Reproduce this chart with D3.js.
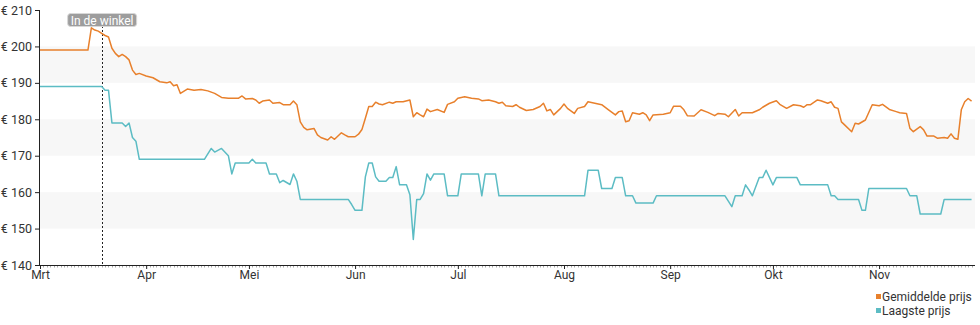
<!DOCTYPE html>
<html>
<head>
<meta charset="utf-8">
<script src="https://cdn.jsdelivr.net/npm/d3@7"></script>
<style>
  html, body { margin: 0; padding: 0; background: #fff; }
  svg { display: block; font-family: Roboto, "Noto Sans", sans-serif; }
</style>
</head>
<body>
<svg id="chart" width="980" height="325"></svg>
<script>
// ---------- DATA ----------
const avgDates = ["03-01","03-15","03-16","03-17","03-18","03-19","03-20","03-21","03-22","03-23","03-24","03-25","03-26","03-27","03-28","03-29","03-30",
"04-01","04-03","04-05","04-07","04-08","04-09","04-10","04-11","04-13","04-15","04-17","04-19","04-21","04-23","04-25","04-28","04-29","04-30",
"05-02","05-03","05-04","05-05","05-07","05-08","05-10","05-11","05-13","05-14","05-15","05-16","05-17","05-18","05-20","05-21","05-22","05-24","05-25","05-26","05-28","05-29","05-30",
"06-01","06-02","06-03","06-04","06-05","06-06","06-07","06-08","06-09","06-11","06-12","06-13","06-15","06-17","06-18","06-19","06-20","06-21","06-22","06-23","06-25","06-27","06-28","06-30",
"07-01","07-03","07-05","07-07","07-08","07-10","07-12","07-13","07-14","07-15","07-17","07-18","07-19","07-21","07-23","07-25","07-26","07-27","07-28","07-29","07-31",
"08-01","08-02","08-04","08-05","08-07","08-08","08-10","08-12","08-14","08-16","08-17","08-18","08-19","08-20","08-21","08-22","08-23","08-24","08-25","08-26","08-27","08-30","08-31",
"09-01","09-02","09-04","09-05","09-06","09-08","09-10","09-12","09-14","09-15","09-17","09-18","09-20","09-21","09-22","09-25","09-27","09-28","09-30",
"10-02","10-03","10-05","10-07","10-09","10-10","10-11","10-12","10-14","10-15","10-17","10-18","10-19","10-20","10-21","10-22","10-24","10-25","10-26","10-28","10-30",
"11-01","11-02","11-04","11-06","11-07","11-09","11-10","11-11","11-13","11-14","11-15","11-17","11-18","11-20","11-21","11-22","11-23","11-24","11-25","11-26","11-27","11-28"];
const avgValues = [199,199,205.1,204.5,204.2,203.6,203.0,202.6,199.5,198.1,197.2,197.8,197.2,196.3,193.5,192.3,192.6,
191.9,191.4,190.3,190.0,190.3,189.2,189.5,187.1,188.3,188.0,188.2,187.8,187.1,186.0,185.8,185.8,186.4,185.6,
185.7,185.3,184.4,185.0,185.3,184.4,184.6,184.0,184.0,185.0,184.0,179.3,177.8,177.1,177.5,175.7,175.0,174.3,175.2,174.5,176.3,175.7,175.2,
175.2,175.9,177.2,180.3,183.5,183.5,184.7,184.2,184.0,184.7,184.4,184.8,184.8,185.3,180.7,181.8,181.2,180.7,182.8,182.1,182.7,181.9,184.1,184.8,
185.8,186.2,185.8,185.6,185.1,185.3,184.8,184.4,184.7,183.7,183.5,184.0,183.3,182.4,182.7,183.5,184.4,182.3,182.7,181.2,183.0,
184.2,183.0,181.6,183.0,183.5,184.8,184.4,184.0,182.6,181.2,182.1,182.3,179.3,179.6,181.8,181.6,181.4,181.8,181.2,179.6,181.2,181.4,181.6,
181.8,183.6,183.6,182.6,181.0,180.9,182.6,181.9,181.0,181.6,181.4,180.7,182.7,180.9,181.8,181.8,182.6,183.3,184.4,
185.1,184.1,183.0,184.0,183.7,183.3,184.0,184.0,185.3,185.1,184.4,184.8,183.3,183.0,179.3,178.4,176.6,178.9,178.7,179.8,184.0,
183.7,184.1,182.7,182.1,181.8,181.6,177.5,176.6,178.0,177.1,175.4,175.4,174.8,175.0,174.8,176.0,174.8,174.5,182.6,184.8,185.7,185.0];

const lowDates = ["03-01","03-19","03-20","03-21","03-22","03-25","03-26","03-27","03-28","03-29","03-30",
"04-18","04-20","04-21","04-23","04-25","04-26","04-27",
"05-01","05-02","05-03","05-06","05-07","05-09","05-10","05-11","05-13","05-14","05-15","05-16","05-30","05-31",
"06-01","06-03","06-04","06-05","06-06","06-07","06-08","06-10","06-11","06-12","06-13","06-14","06-16","06-17","06-18","06-19","06-20","06-21","06-22","06-23","06-24","06-27","06-28",
"07-01","07-02","07-07","07-08","07-09","07-12","07-13",
"08-07","08-08","08-11","08-12","08-15","08-16","08-18","08-19","08-21","08-22","08-27","08-28",
"09-17","09-19","09-20","09-22","09-23","09-24","09-25","09-27","09-28","09-29",
"10-01","10-02","10-08","10-09","10-17","10-18","10-19","10-20","10-26","10-27","10-28","10-29",
"11-09","11-10","11-12","11-13","11-19","11-20","11-28"];
const lowValues = [189,189,188,188,179,179,178,179,175,174,169,
169,172,171,172,170,165,168,
168,169,168,168,165,165,162.6,163.2,162.1,165,163,158,158,156.6,
155,155,164.2,168,168,164.2,163,163,164,164,167,162,162,159.3,147,158,158,159.6,165,163.3,165,165,159,
159,165,165,159,165,165,159,
159,166,166,161,161,164,164,159,159,157,157,159,
159,156,159,159,162,160.6,159,164,164,166,
162,164,164,162,162,159,159,158,158,155,155,161,
161,159,159,154,154,158,158];

const year = 2023;
const startDate = "03-01";
const endDate = "11-29";
const yTicks = [140,150,160,170,180,190,200,210];
const bandRanges = [[150,160],[170,180],[190,200]];
const monthLabels = ["Mrt","Apr","Mei","Jun","Jul","Aug","Sep","Okt","Nov"];
const storeDate = "03-19";
const storeLabel = "In de winkel";
const seriesNames = ["Gemiddelde prijs","Laagste prijs"];
const seriesColors = ["#e8802c","#5cbcc4"];

// ---------- CHART ----------
(function () {
const parse = s => new Date(Date.UTC(year, +s.slice(0,2) - 1, +s.slice(3,5)));
const svg = d3.select("#chart");
const mLeft = 40, mRight = 975, mTop = 10, mBottom = 265;

const x = d3.scaleUtc().domain([parse(startDate), parse(endDate)]).range([mLeft, mRight]);
const y = d3.scaleLinear().domain([140,210]).range([mBottom, mTop]);

// bands
svg.append("g").selectAll("rect").data(bandRanges).join("rect")
  .attr("x", mLeft).attr("width", mRight - mLeft)
  .attr("y", d => y(d[1])).attr("height", d => y(d[0]) - y(d[1]))
  .attr("fill", "#f7f7f7");

// store marker line
const sx = x(parse(storeDate));
svg.append("line")
  .attr("x1", Math.round(sx) + 0.5).attr("x2", Math.round(sx) + 0.5)
  .attr("y1", 14).attr("y2", mBottom)
  .attr("stroke", "#222").attr("stroke-width", 1).attr("stroke-dasharray", "2,2");

// lines
const series = [
  {dates: avgDates, values: avgValues},
  {dates: lowDates, values: lowValues}
];
const line = d3.line().x(d => x(d[0])).y(d => y(d[1]));
series.forEach((s, i) => {
  const pts = s.dates.map((d, j) => [parse(d), s.values[j]]);
  svg.append("path").datum(pts)
    .attr("d", line).attr("fill", "none")
    .attr("stroke", seriesColors[i]).attr("stroke-width", 1.5)
    .attr("stroke-linejoin", "round");
});

// y axis
const yAxis = d3.axisLeft(y).tickValues(yTicks).tickSize(5).tickPadding(3)
  .tickFormat(d => "€ " + d);
const gy = svg.append("g").attr("transform", `translate(${mLeft},0)`).call(yAxis);
gy.select(".domain").attr("stroke", "#222").attr("d", `M-0.5,${mTop}V${mBottom}`);
gy.selectAll(".tick line").attr("stroke", "#222");
gy.selectAll("text").attr("fill", "#333").style("font-size", "12.5px").attr("font-family", "Roboto");

// x axis minor daily ticks
const days = d3.utcDay.range(parse(startDate), parse(endDate));
svg.append("g").selectAll("line").data(days).join("line")
  .attr("x1", d => Math.round(x(d)) + 0.5).attr("x2", d => Math.round(x(d)) + 0.5)
  .attr("y1", mBottom).attr("y2", mBottom + 2.5)
  .attr("stroke", "#aaa").attr("stroke-width", 1);

// x axis
const months = d3.utcMonth.range(parse(startDate), parse(endDate));
const xAxis = d3.axisBottom(x).tickValues(months).tickSize(4).tickPadding(1)
  .tickFormat((d, i) => monthLabels[i]);
const gx = svg.append("g").attr("transform", `translate(0,${mBottom})`).call(xAxis);
gx.select(".domain").attr("stroke", "#222").attr("d", `M${mLeft},0.5H${mRight}`);
gx.selectAll(".tick line").attr("stroke", "#222");
gx.selectAll("text").attr("fill", "#333").style("font-size", "12px").attr("font-family", "Roboto");

// store label
const lab = svg.append("g");
lab.append("rect").attr("x", sx - 34).attr("y", 13.5).attr("width", 69).attr("height", 13)
  .attr("rx", 3).attr("fill", "#9d9d9d").attr("stroke", "#d8d8d8").attr("stroke-width", 1);
lab.append("text").attr("x", sx + 0.5).attr("y", 24.5).attr("text-anchor", "middle")
  .attr("fill", "#fff").style("font-size", "12px").text(storeLabel);

// legend
const lg = svg.append("g").selectAll("g").data(seriesNames).join("g")
  .attr("transform", (d, i) => `translate(876,${292 + i * 14})`);
lg.append("rect").attr("x", 0).attr("y", 2).attr("width", 5).attr("height", 5)
  .attr("fill", (d, i) => seriesColors[i]);
lg.append("text").attr("x", 6).attr("y", 8.5).attr("fill", "#333")
  .style("font-size", "12px").text(d => d);
})();
</script>
</body>
</html>
